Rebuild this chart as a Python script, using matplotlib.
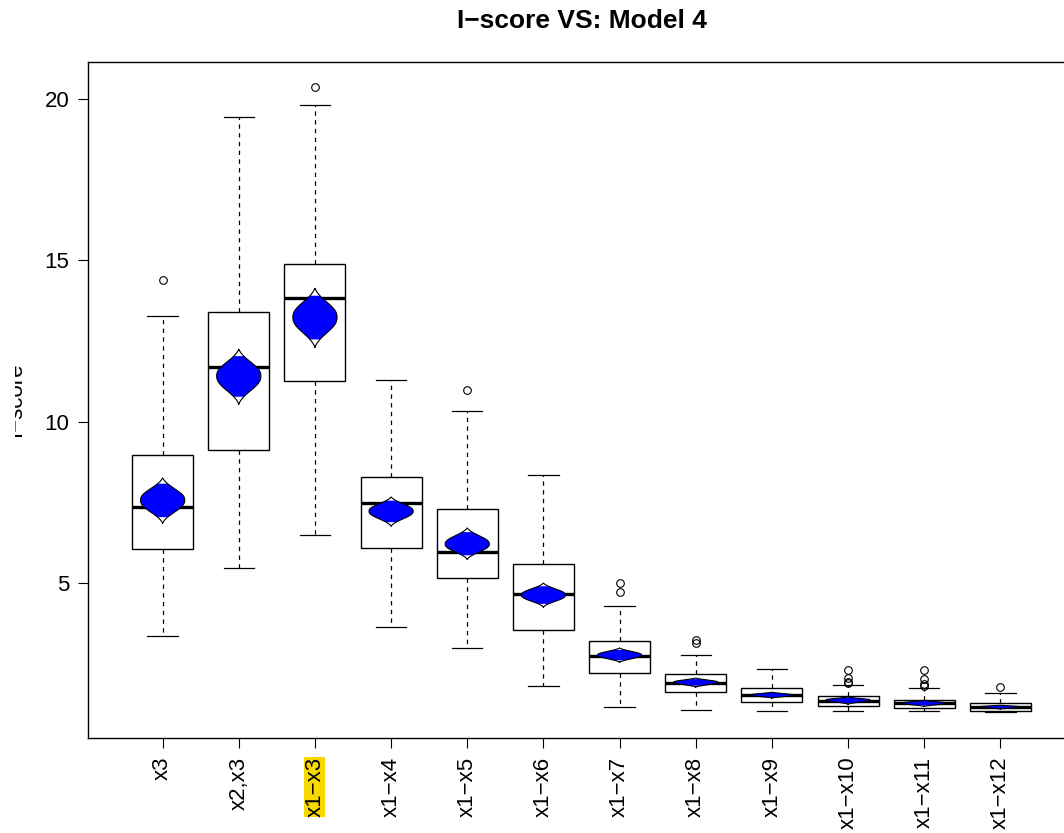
import numpy as np
import matplotlib
matplotlib.use("Agg")
import matplotlib.pyplot as plt
from matplotlib.transforms import Bbox, TransformedBbox

plt.rcParams["font.family"] = ["Liberation Sans", "DejaVu Sans"]

# ─── Data ─────────────────────────────────────────────────────────────────────
labels   = ["x3", "x2,x3", "x1−x3", "x1−x4", "x1−x5", "x1−x6",
            "x1−x7", "x1−x8", "x1−x9", "x1−x10", "x1−x11", "x1−x12"]
whis_lo  = [3.36, 5.47, 6.49, 3.64, 2.99, 1.81, 1.16, 1.07, 1.04, 1.04, 1.03, 1.00]
q1       = [6.06, 9.12, 11.26, 6.09, 5.16, 3.55, 2.21, 1.62, 1.31, 1.19, 1.12, 1.03]
medians  = [7.36, 11.69, 13.83, 7.48, 5.96, 4.66, 2.74, 1.90, 1.53, 1.35, 1.28, 1.16]
q3       = [8.97, 13.40, 14.89, 8.29, 7.29, 5.59, 3.20, 2.18, 1.75, 1.50, 1.37, 1.28]
whis_hi  = [13.27, 19.45, 19.81, 11.29, 10.33, 8.35, 4.29, 2.77, 2.34, 1.84, 1.74, 1.59]
outliers = [[14.39], [], [20.37], [], [10.98], [], [4.72, 5.00], [3.14, 3.24], [],
            [1.90, 1.93, 2.06, 2.31], [1.81, 1.87, 2.03, 2.31], [1.78]]

# violin of the mean: centre and lower / upper tips
vio_mid = [7.57, 11.42, 13.24, 7.23, 6.21, 4.63, 2.77, 1.93, 1.53, 1.38, 1.28, 1.16]
vio_lo  = [6.86, 10.55, 12.31, 6.77, 5.74, 4.26, 2.55, 1.78, 1.44, 1.25, 1.18, 1.10]
vio_hi  = [8.26, 12.25, 14.14, 7.67, 6.71, 5.00, 2.99, 2.06, 1.62, 1.47, 1.37, 1.22]

HIGHLIGHT = "x1−x3"

# ─── Figure ───────────────────────────────────────────────────────────────────
fig = plt.figure(figsize=(10.64, 8.33), dpi=100)
ax = fig.add_axes([88 / 1064, 95 / 833, 987 / 1064, 676 / 833])

pos = np.arange(1, len(labels) + 1)
stats = [
    dict(med=m, q1=a, q3=b, whislo=lo, whishi=hi, fliers=f)
    for m, a, b, lo, hi, f in zip(medians, q1, q3, whis_lo, whis_hi, outliers)
]
ax.bxp(
    stats, positions=pos, widths=0.8, capwidths=0.4, patch_artist=True,
    boxprops=dict(facecolor="white", edgecolor="black", linewidth=1.0),
    medianprops=dict(color="black", linewidth=2.4, solid_capstyle="butt"),
    whiskerprops=dict(color="black", linewidth=0.9, linestyle=(0, (3.5, 3.5))),
    capprops=dict(color="black", linewidth=0.9),
    flierprops=dict(marker="o", markersize=5.5, markerfacecolor="none",
                    markeredgecolor="black", markeredgewidth=0.8, linestyle="none"),
)

# Violins drawn over the boxes: blue body, white pointed tails
HALF = 0.29
SIG = 0.5
CUT = 0.74
t = np.linspace(-1, 1, 401)
prof = np.exp(-np.abs(t / SIG) ** 2.3 / 2)
prof = (prof - prof[0]) / (1 - prof[0])
for x, m, lo, hi in zip(pos, vio_mid, vio_lo, vio_hi):
    y = np.where(t < 0, m + t * (m - lo), m + t * (hi - m))
    w = HALF * prof
    xs = np.r_[x - w, (x + w)[::-1]]
    ys = np.r_[y, y[::-1]]
    ax.fill(xs, ys, facecolor="#0000FF", edgecolor="none", zorder=4)
    for tail in (t <= -CUT, t >= CUT):
        ax.fill(np.r_[x - w[tail], (x + w[tail])[::-1]],
                np.r_[y[tail], y[tail][::-1]],
                facecolor="white", edgecolor="none", zorder=5)
    ax.plot(np.r_[xs, xs[0]], np.r_[ys, ys[0]], color="black",
            linewidth=0.8, zorder=6)

ax.set_xlim(0.02, 12.98)
ax.set_ylim(0.2, 21.15)
ax.set_yticks([5, 10, 15, 20])
ax.set_xticks(pos)
ax.set_xticklabels(labels, rotation=90, va="top", ha="center")
ax.tick_params(axis="both", length=7.5, width=0.8, direction="out")
ax.tick_params(axis="y", labelsize=16, pad=6)
ax.tick_params(axis="x", labelsize=16, pad=6)
for lab in ax.get_xticklabels():
    if lab.get_text() == HIGHLIGHT:
        lab.set_bbox(dict(facecolor="#F7D900", edgecolor="none",
                          boxstyle="square,pad=0"))
for s in ax.spines.values():
    s.set_linewidth(1.0)

fig.text(581.5 / 1064, 1 - 21 / 833, "I−score VS: Model 4", ha="center",
         va="center", fontsize=19, fontweight="bold")

ylab = fig.text(26 / 1064, 1 - 399 / 833, "I−score", rotation=90, ha="right",
                va="center", fontsize=16)
ylab.set_clip_box(TransformedBbox(Bbox([[15 / 1064, 0], [1, 1]]), fig.transFigure))
ylab.set_clip_on(True)

fig.savefig("out.png", dpi=100)
